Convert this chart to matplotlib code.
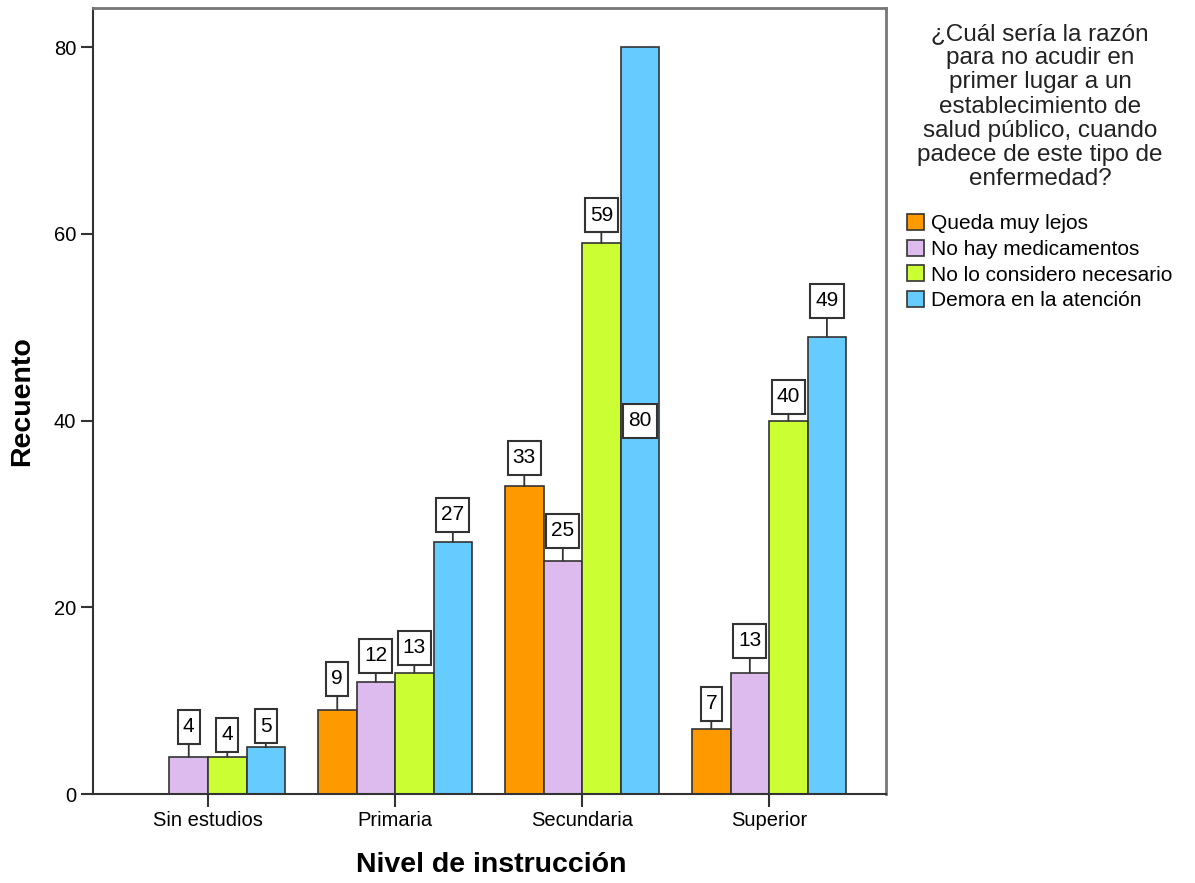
import matplotlib
matplotlib.use("Agg")
import matplotlib.pyplot as plt
from matplotlib.patches import Patch
from matplotlib.path import Path
import numpy as np

# Data
categories = ["Sin estudios", "Primaria", "Secundaria", "Superior"]
series_names = ["Queda muy lejos", "No hay medicamentos",
                "No lo considero necesario", "Demora en la atención"]
queda_muy_lejos = [0, 9, 33, 7]
no_hay_medicamentos = [4, 12, 25, 13]
no_lo_considero = [4, 13, 59, 40]
demora_atencion = [5, 27, 80, 49]
values = [queda_muy_lejos, no_hay_medicamentos, no_lo_considero, demora_atencion]

legend_title = ("¿Cuál sería la razón\npara no acudir en\nprimer lugar a un\n"
                "establecimiento de\nsalud público, cuando\npadece de este tipo de\n"
                "enfermedad?")
y_ticks = [0, 20, 40, 60, 80]

# Styling
colors = ["#FF9900", "#DDBBEE", "#CCFF33", "#66CCFF"]
label_offsets_px = [
    [30, 31, 28, 25],
    [30, 26, 30, 32],
    [22, 25, 28, 24],
    [21, 27, 0, 36],
]
font = "Liberation Sans"
plt.rcParams["font.family"] = [font, "DejaVu Sans"]


def label_box(x0, y0, width, height, mutation_size):
    """Rectangle with a narrow horizontal and a tall vertical margin (pixels)."""
    padx, half_h = 5, 17
    cy = y0 + height / 2
    l, r = x0 - padx, x0 + width + padx
    b, t = cy - half_h, cy + half_h
    verts = [(l, b), (r, b), (r, t), (l, t), (l, b)]
    codes = [Path.MOVETO, Path.LINETO, Path.LINETO, Path.LINETO, Path.CLOSEPOLY]
    return Path(verts, codes)


W, H = 1195, 883
fig = plt.figure(figsize=(W / 100, H / 100), dpi=100)
ax = fig.add_axes([93 / W, 1 - 794 / H, (886 - 93) / W, (794 - 8) / H])

x = np.arange(len(categories))
bw = 0.206
ymax = 84.2

for i, (vals, col) in enumerate(zip(values, colors)):
    pos = x + (i - 1.5) * bw
    ax.bar(pos, vals, width=bw, color=col, edgecolor="#333333", linewidth=1.2, zorder=2)
    for j, (p, v) in enumerate(zip(pos, vals)):
        if v <= 0:
            continue
        off = label_offsets_px[i][j]
        bbox = dict(boxstyle=label_box, fc="white", ec="#333333", lw=1.5)
        if v + 40 / 9.34 > ymax:
            ax.text(p, v / 2, str(v), ha="center", va="center", fontsize=15,
                    bbox=bbox, zorder=4)
        else:
            ax.annotate(str(v), xy=(p, v), xytext=(0, off), textcoords="offset pixels",
                        ha="center", va="center", fontsize=15, bbox=bbox, zorder=4,
                        arrowprops=dict(arrowstyle="-", color="#333333", lw=1.3,
                                        shrinkA=0, shrinkB=0))

ax.set_xlim(-0.615, 3.625)
ax.set_ylim(0, ymax)
ax.set_xticks(x)
ax.set_xticklabels(categories, fontsize=14.5)
ax.set_yticks(y_ticks)
ax.set_yticklabels([str(t) for t in y_ticks], fontsize=14.5)
ax.tick_params(axis="both", direction="out", length=9, width=1.5, color="#333333", pad=3)

for side in ["left", "bottom"]:
    ax.spines[side].set_color("#333333")
    ax.spines[side].set_linewidth(1.5)
for side in ["top", "right"]:
    ax.spines[side].set_color("#777777")
    ax.spines[side].set_linewidth(2)

fig.text(491 / W, 1 - 865 / H, "Nivel de instrucción", ha="center", va="center",
         fontsize=20.5, fontweight="bold")
fig.text(22 / W, 1 - 401 / H, "Recuento", ha="center", va="center", rotation=90,
         fontsize=20.5, fontweight="bold")

fig.text(1040 / W, 1 - 23 / H, legend_title, ha="center", va="top", fontsize=17.5,
         linespacing=1.13, color="#222222")

handles = [Patch(facecolor=c, edgecolor="#333333", linewidth=1.2) for c in colors]
fig.legend(handles, series_names, loc="upper left", bbox_to_anchor=(907 / W, 1 - 214 / H),
           frameon=False, fontsize=15, handlelength=0.8, handleheight=0.8,
           handletextpad=0.35, labelspacing=0.31, borderpad=0, borderaxespad=0)

fig.savefig("out.png", dpi=100)
